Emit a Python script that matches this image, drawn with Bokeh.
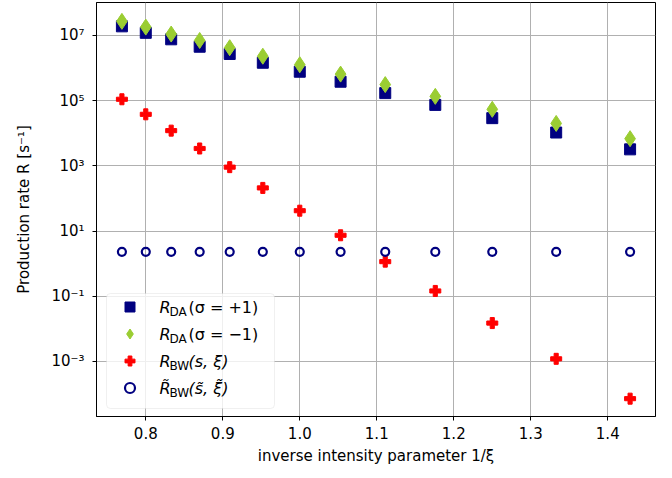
from bokeh.plotting import figure
from bokeh.models import Range1d, FixedTicker, Legend, LegendItem, Label, BoxAnnotation
from bokeh.embed import file_html
from bokeh.resources import INLINE

# ---- data ----
x_inv_xi = [0.769, 0.800, 0.833, 0.870, 0.909, 0.952, 1.000, 1.053, 1.111, 1.176, 1.250, 1.333, 1.429]
r_da_plus = [1.9e7, 1.2e7, 7.6e6, 4.5e6, 2.7e6, 1.45e6, 7.7e5, 3.8e5, 1.7e5, 7.4e4, 2.9e4, 1.05e4, 3.2e3]
r_da_minus = [2.7e7, 1.8e7, 1.1e7, 7.0e6, 4.2e6, 2.3e6, 1.26e6, 6.5e5, 3.1e5, 1.35e5, 5.4e4, 2.0e4, 6.8e3]
r_bw = [1.1e5, 3.8e4, 1.2e4, 3.4e3, 910.0, 210.0, 42.0, 7.4, 1.15, 0.145, 0.015, 1.2e-3, 7.2e-5]
r_bw_tilde = [2.3, 2.3, 2.3, 2.3, 2.3, 2.3, 2.3, 2.3, 2.3, 2.3, 2.3, 2.3, 2.3]

x_ticks = [0.8, 0.9, 1.0, 1.1, 1.2, 1.3, 1.4]
x_tick_labels = ["0.8", "0.9", "1.0", "1.1", "1.2", "1.3", "1.4"]
y_ticks = [1e-3, 1e-1, 1e1, 1e3, 1e5, 1e7]
y_tick_labels = ["10⁻³", "10⁻¹", "10¹", "10³", "10⁵", "10⁷"]

FONT = "DejaVu Sans"

p = figure(width=672, height=478, y_axis_type="log",
           x_range=Range1d(0.736, 1.462), y_range=Range1d(10 ** -4.69, 10 ** 8.01),
           output_backend="svg", toolbar_location=None,
           min_border_left=96, min_border_right=17, min_border_top=2, min_border_bottom=62)
p.background_fill_color = "white"
p.border_fill_color = "white"
p.outline_line_color = "black"
p.outline_line_width = 1

# axes
p.xaxis.ticker = FixedTicker(ticks=x_ticks)
p.yaxis.ticker = FixedTicker(ticks=y_ticks)
p.xaxis.major_label_overrides = {v: l for v, l in zip(x_ticks, x_tick_labels)}
p.yaxis.major_label_overrides = {v: l for v, l in zip(y_ticks, y_tick_labels)}
for ax in (p.xaxis[0], p.yaxis[0]):
    ax.minor_tick_line_color = None
    ax.major_tick_in = 0
    ax.major_tick_out = 4
    ax.major_label_text_font = FONT
    ax.major_label_text_font_size = "15px"
    ax.major_label_text_color = "black"
    ax.axis_label_text_font = FONT
    ax.axis_label_text_font_size = "15px"
    ax.axis_label_text_font_style = "normal"
    ax.axis_label_text_color = "black"
    ax.axis_line_color = "black"
    ax.major_tick_line_color = "black"
p.xaxis.major_label_standoff = 6
p.yaxis.major_label_standoff = 8
p.xaxis.axis_label = "inverse intensity parameter 1/ξ"
p.yaxis.axis_label = "Production rate R [s⁻¹]"
p.xaxis.axis_label_standoff = 5
p.yaxis.axis_label_standoff = 15

p.xgrid.ticker = FixedTicker(ticks=x_ticks)
p.ygrid.ticker = FixedTicker(ticks=y_ticks)
p.grid.grid_line_color = "#b0b0b0"
p.grid.grid_line_width = 1

# data
r1 = p.scatter(x_inv_xi, r_da_plus, marker="square", size=11, fill_color="navy", line_color="navy")
r2 = p.scatter(x_inv_xi, r_da_minus, marker="diamond", size=16, fill_color="yellowgreen", line_color="yellowgreen")
r3 = p.scatter(x_inv_xi, r_bw, marker="plus", size=11, fill_color="red", line_color="red")
r4 = p.scatter(x_inv_xi, r_bw_tilde, marker="circle", size=8, fill_color=None, line_color="navy", line_width=2.2)

# legend frame
frame = BoxAnnotation(left=10, right=178, bottom=8, top=123,
                      left_units="screen", right_units="screen", bottom_units="screen", top_units="screen",
                      fill_color="white", fill_alpha=0.8, line_color="#cccccc", line_width=1,
                      border_radius=4)
p.add_layout(frame)

legend = Legend(items=[LegendItem(label=" ", renderers=[r]) for r in (r1, r2, r3, r4)],
                location=(11, 6), glyph_width=25, glyph_height=25, label_height=25, label_width=10,
                spacing=2, padding=10, margin=0, border_line_alpha=0, background_fill_alpha=0,
                label_text_font_size="8px")
p.add_layout(legend)

rows_y = [109, 82, 55, 28]
mains = ["R", "R", "R", "R\u0303"]
subs = ["DA", "DA", "BW", "BW"]
rests = ["(σ =  +1)", "(σ =  −1)", "(s, ξ)", "(s\u0303, ξ\u0303)"]
rest_style = ["normal", "normal", "italic", "italic"]
for yy, m, s, r, st in zip(rows_y, mains, subs, rests, rest_style):
    p.add_layout(Label(x=63, y=yy, x_units="screen", y_units="screen", text=m,
                       text_font=FONT, text_font_size="16px", text_font_style="italic",
                       text_baseline="middle", text_align="left", text_color="black"))
    p.add_layout(Label(x=73, y=yy - 4, x_units="screen", y_units="screen", text=s,
                       text_font=FONT, text_font_size="12px",
                       text_baseline="middle", text_align="left", text_color="black"))
    p.add_layout(Label(x=92, y=yy, x_units="screen", y_units="screen", text=r,
                       text_font=FONT, text_font_size="16px", text_font_style=st,
                       text_baseline="middle", text_align="left", text_color="black"))

open("out.html", "w").write(file_html(p, INLINE))
